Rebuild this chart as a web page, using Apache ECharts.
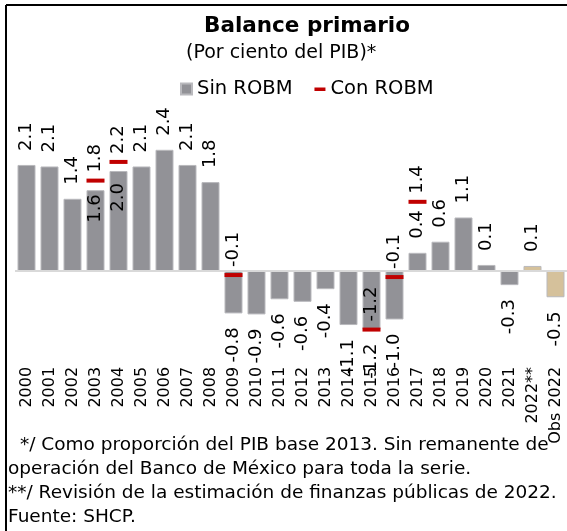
<!DOCTYPE html>
<html>
<head>
    <meta charset="utf-8">
    <title>Balance primario</title>
    <script src="https://cdn.jsdelivr.net/npm/echarts@6/dist/echarts.min.js"></script>
    <style>
        html, body { margin: 0; padding: 0; background: #fff; }
    </style>
</head>
<body>
    <div id="main" style="width: 567px;height:531px;"></div>
    <script type="text/javascript">
        // datos
        var categories = ['2000', '2001', '2002', '2003', '2004', '2005', '2006', '2007', '2008', '2009',
            '2010', '2011', '2012', '2013', '2014', '2015', '2016', '2017', '2018', '2019',
            '2020', '2021', '2022**', 'Obs 2022'];
        var sinRobm = [2.10, 2.07, 1.43, 1.60, 1.98, 2.07, 2.40, 2.10, 1.76, -0.84,
            -0.86, -0.56, -0.61, -0.36, -1.07, -1.16, -0.96, 0.36, 0.58, 1.06,
            0.12, -0.28, 0.10, -0.52];
        var conRobm = ['-', '-', '-', 1.79, 2.16, '-', '-', '-', '-', -0.08,
            '-', '-', '-', '-', '-', -1.16, -0.12, 1.37, '-', '-',
            '-', '-', '-', '-'];
        // categorias con estimacion (otro color)
        var estimadas = ['2022**', 'Obs 2022'];
        // etiqueta dentro de la barra (el marcador rojo queda justo encima)
        var etiquetaDentro = { '2003': 4, '2004': 12 };

        var FONT = 'DejaVu Sans';
        var GRIS = '#929297';
        var ARENA = '#d5c19b';
        var ROJO = '#c00000';

        var myChart = echarts.init(document.getElementById('main'));

        var fmt = function (p) {
            return Number(p.value).toFixed(1);
        };

        var barData = [];
        for (var i = 0; i < sinRobm.length; i++) {
            var v = sinRobm[i];
            var lab;
            if (etiquetaDentro[categories[i]] !== undefined) {
                lab = { position: 'insideTop', align: 'right', verticalAlign: 'middle', distance: etiquetaDentro[categories[i]] };
            } else if (v >= 0) {
                lab = { position: 'top', align: 'left', verticalAlign: 'middle', distance: 14 };
            } else {
                lab = { position: 'bottom', align: 'right', verticalAlign: 'middle', distance: 14 };
            }
            barData.push({
                value: v,
                itemStyle: { color: estimadas.indexOf(categories[i]) >= 0 ? ARENA : GRIS },
                label: lab
            });
        }

        var nota = '18.5px "DejaVu Sans"';

        var option = {
            animation: false,
            textStyle: { fontFamily: FONT },
            title: [{
                text: 'Balance primario',
                left: 199,
                top: 10,
                textStyle: { fontFamily: FONT, fontSize: 21.5, fontWeight: 'bold', color: '#000' }
            }, {
                text: '(Por ciento del PIB)*',
                left: 181,
                top: 39,
                textStyle: { fontFamily: FONT, fontSize: 19, fontWeight: 'normal', color: '#000' }
            }],
            legend: {
                left: 180,
                top: 79,
                padding: 0,
                itemWidth: 11,
                itemHeight: 11,
                itemGap: 22,
                textStyle: { fontFamily: FONT, fontSize: 19.5, color: '#000' },
                data: [
                    { name: 'Sin ROBM', icon: 'rect' },
                    { name: 'Con ROBM', icon: 'path://M0,0L0,0M0,4h11v3.5h-11zM0,11L0,11' }
                ]
            },
            grid: {
                left: 15,
                right: 0,
                top: 129.6,
                bottom: 169.1
            },
            xAxis: {
                type: 'category',
                data: categories,
                axisLine: { show: false, onZero: false },
                axisTick: { show: false },
                axisLabel: {
                    interval: 0,
                    rotate: 90,
                    margin: 5,
                    fontFamily: FONT,
                    fontSize: 16,
                    color: '#000'
                }
            },
            yAxis: {
                type: 'value',
                min: -1.8,
                max: 2.8,
                show: false,
                splitLine: { show: false }
            },
            series: [{
                name: 'Sin ROBM',
                type: 'bar',
                data: barData,
                barWidth: 18,
                itemStyle: { color: GRIS, borderColor: '#b9b9bd', borderWidth: 1 },
                label: {
                    show: true,
                    rotate: 90,
                    fontFamily: FONT,
                    fontSize: 18,
                    color: '#000',
                    formatter: fmt
                },
                markLine: {
                    silent: true,
                    symbol: 'none',
                    label: { show: false },
                    lineStyle: { color: '#d9d9d9', width: 2, type: 'solid' },
                    data: [{ yAxis: 0 }]
                }
            }, {
                name: 'Con ROBM',
                type: 'scatter',
                data: conRobm,
                symbol: 'rect',
                symbolSize: [18, 4],
                itemStyle: { color: ROJO, opacity: 1 },
                z: 5,
                label: {
                    show: true,
                    rotate: 90,
                    position: 'top',
                    align: 'left',
                    verticalAlign: 'middle',
                    distance: 6,
                    fontFamily: FONT,
                    fontSize: 18,
                    color: '#000',
                    formatter: fmt
                }
            }],
            graphic: [{
                type: 'line',
                shape: { x1: 6, y1: 5, x2: 567, y2: 5 },
                style: { stroke: '#000', lineWidth: 2 }
            }, {
                type: 'line',
                shape: { x1: 6, y1: 5, x2: 6, y2: 531 },
                style: { stroke: '#000', lineWidth: 2 }
            }, {
                type: 'text', left: 20, top: 436,
                style: { text: '*/ Como proporción del PIB base 2013. Sin remanente de', font: nota, fill: '#000' }
            }, {
                type: 'text', left: 8, top: 460,
                style: { text: 'operación del Banco de México para toda la serie.', font: nota, fill: '#000' }
            }, {
                type: 'text', left: 8, top: 484,
                style: { text: '**/ Revisión de la estimación de finanzas públicas de 2022.', font: nota, fill: '#000' }
            }, {
                type: 'text', left: 8, top: 508,
                style: { text: 'Fuente: SHCP.', font: nota, fill: '#000' }
            }]
        };

        myChart.setOption(option);
    </script>
</body>
</html>
